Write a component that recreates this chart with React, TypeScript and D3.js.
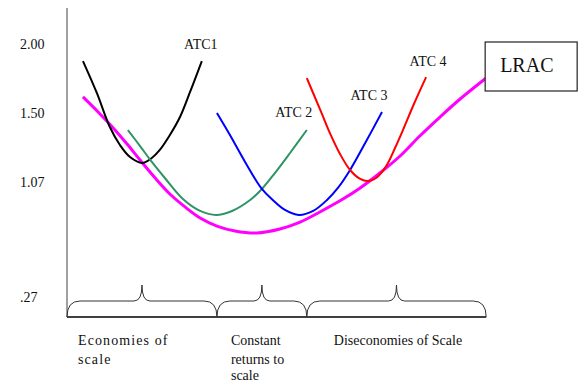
import React from "react";
import * as d3 from "d3";

// Cost tick labels on the vertical axis
const costTicks: number[] = [2.0, 1.5, 1.07, 0.27];
const costTickLabels: string[] = ["2.00", "1.50", "1.07", ".27"];

// Short-run average total cost curves: [quantity, cost]
const atc1: [number, number][] = [
  [3.8, 1.88], [7.1, 1.649], [10.2, 1.416], [12.6, 1.304], [15.0, 1.229], [17.9, 1.192],
  [20.2, 1.223], [22.1, 1.273], [24.5, 1.366], [26.9, 1.478], [29.3, 1.656], [32.1, 1.88],
];
const atc2: [number, number][] = [
  [14.5, 1.397], [17.4, 1.297], [20.2, 1.198], [23.3, 1.098], [27.6, 0.955], [31.7, 0.872],
  [35.5, 0.844], [39.3, 0.872], [43.6, 0.948], [46.4, 1.025], [49.5, 1.129], [53.1, 1.254],
  [57.1, 1.397],
];
const atc3: [number, number][] = [
  [35.7, 1.504], [38.8, 1.366], [42.4, 1.198], [46.4, 1.025], [49.0, 0.948], [51.9, 0.879],
  [55.2, 0.844], [58.6, 0.872], [61.9, 0.948], [64.5, 1.032], [67.4, 1.148], [71.0, 1.316],
  [75.0, 1.511],
];
const atc4: [number, number][] = [
  [57.1, 1.757], [58.8, 1.634], [60.7, 1.497], [62.6, 1.378], [65.0, 1.248], [67.4, 1.148],
  [69.8, 1.092], [71.7, 1.079], [73.6, 1.098], [76.0, 1.173], [78.1, 1.285], [80.2, 1.41],
  [82.6, 1.569], [85.5, 1.764],
];
// Long-run average cost envelope
const lrac: [number, number][] = [
  [3.8, 1.62], [7.4, 1.511], [11.0, 1.41], [14.3, 1.31], [17.4, 1.21], [21.0, 1.098],
  [24.5, 0.99], [28.1, 0.9], [31.7, 0.823], [35.7, 0.767], [40.0, 0.733], [45.2, 0.719],
  [50.7, 0.747], [55.5, 0.795], [60.2, 0.865], [65.7, 0.955], [69.8, 1.032], [74.5, 1.129],
  [79.3, 1.235], [84.0, 1.36], [88.8, 1.478], [93.6, 1.605], [99.8, 1.757],
];

// Output ranges marked by braces under the axis
const rangeBounds: number[] = [0, 35.7, 57.1, 99.8];
const rangeLabels: string[][] = [
  ["Economies of", "scale"],
  ["Constant", "returns to", "scale"],
  ["Diseconomies of Scale"],
];

const W = 581;
const H = 383;
const axisX = 67;
const axisBottom = 317;
const axisTop = 8;
const labelLineY = [345, 364, 380];
const labelInset = [11, 14, 27];

const x = d3.scaleLinear().domain([0, 100]).range([axisX, axisX + 420]);
const y = d3
  .scaleLinear()
  .domain([0.27, 1.07, 1.5, 2.0])
  .range([297.5, 182.5, 113.5, 44.5]);

const line = d3
  .line<[number, number]>()
  .x((d) => x(d[0]))
  .y((d) => y(d[1]))
  .curve(d3.curveCatmullRom.alpha(0.5));

const curves = [
  { name: "ATC1", data: atc1, color: "#000000", width: 2, dx: -1, dy: -12 },
  { name: "ATC 2", data: atc2, color: "#2e9463", width: 2, dx: -13, dy: -13 },
  { name: "ATC 3", data: atc3, color: "#0000ff", width: 2, dx: -13, dy: -12 },
  { name: "ATC 4", data: atc4, color: "#ff0000", width: 2, dx: 2, dy: -11 },
];

function bracePath(a: number, b: number): string {
  const m = (a + b) / 2;
  const base = axisBottom;
  const shoulder = base - 16;
  const tip = base - 32;
  return [
    `M${a},${base}`,
    `Q${a},${shoulder} ${a + 13},${shoulder}`,
    `L${m - 8},${shoulder}`,
    `Q${m},${shoulder} ${m},${tip}`,
    `Q${m},${shoulder} ${m + 8},${shoulder}`,
    `L${b - 13},${shoulder}`,
    `Q${b},${shoulder} ${b},${base}`,
  ].join(" ");
}

const font = "'Liberation Serif', 'DejaVu Serif', serif";

export default function App() {
  const end = lrac[lrac.length - 1];
  const boxX = x(end[0]) - 1;
  const boxY = 42;
  return (
    <svg
      width={W}
      height={H}
      viewBox={`0 0 ${W} ${H}`}
      style={{ position: "absolute", left: 0, top: 0, background: "#fff" }}
      fontFamily={font}
    >
      {/* cost axis */}
      <line x1={axisX} x2={axisX} y1={axisTop} y2={axisBottom} stroke="#a0a0a0" strokeWidth={2} />
      {/* quantity axis */}
      <line
        x1={axisX}
        x2={x(rangeBounds[rangeBounds.length - 1])}
        y1={axisBottom}
        y2={axisBottom}
        stroke="#000"
        strokeWidth={1.6}
      />

      {costTicks.map((v, i) => (
        <text key={i} x={20} y={y(v)} dy="0.35em" fontSize={14} fill="#111">
          {costTickLabels[i]}
        </text>
      ))}

      {/* braces and range labels */}
      {rangeLabels.map((lines, i) => {
        const a = x(rangeBounds[i]);
        const b = x(rangeBounds[i + 1]);
        return (
          <g key={i}>
            <path d={bracePath(a, b)} fill="none" stroke="#333" strokeWidth={1} />
            {lines.map((t, j) => (
              <text
                key={j}
                x={a + labelInset[i]}
                y={labelLineY[j]}
                fontSize={14}
                fill="#111"
                letterSpacing={i === 0 ? 1.1 : 0}
              >
                {t}
              </text>
            ))}
          </g>
        );
      })}

      {/* LRAC envelope */}
      <path d={line(lrac) ?? ""} fill="none" stroke="#ff00ff" strokeWidth={3} />

      {/* short-run curves */}
      {curves.map((c) => {
        const last = c.data[c.data.length - 1];
        return (
          <g key={c.name}>
            <path d={line(c.data) ?? ""} fill="none" stroke={c.color} strokeWidth={c.width} />
            <text
              x={x(last[0]) + c.dx}
              y={y(last[1]) + c.dy}
              textAnchor="middle"
              fontSize={14}
              fill="#111"
            >
              {c.name}
            </text>
          </g>
        );
      })}

      {/* LRAC label box */}
      <rect x={boxX} y={boxY} width={92} height={49} fill="#fff" stroke="#222" strokeWidth={1.2} />
      <text x={boxX + 15} y={boxY + 30} fontSize={20} fill="#111">
        LRAC
      </text>
    </svg>
  );
}
